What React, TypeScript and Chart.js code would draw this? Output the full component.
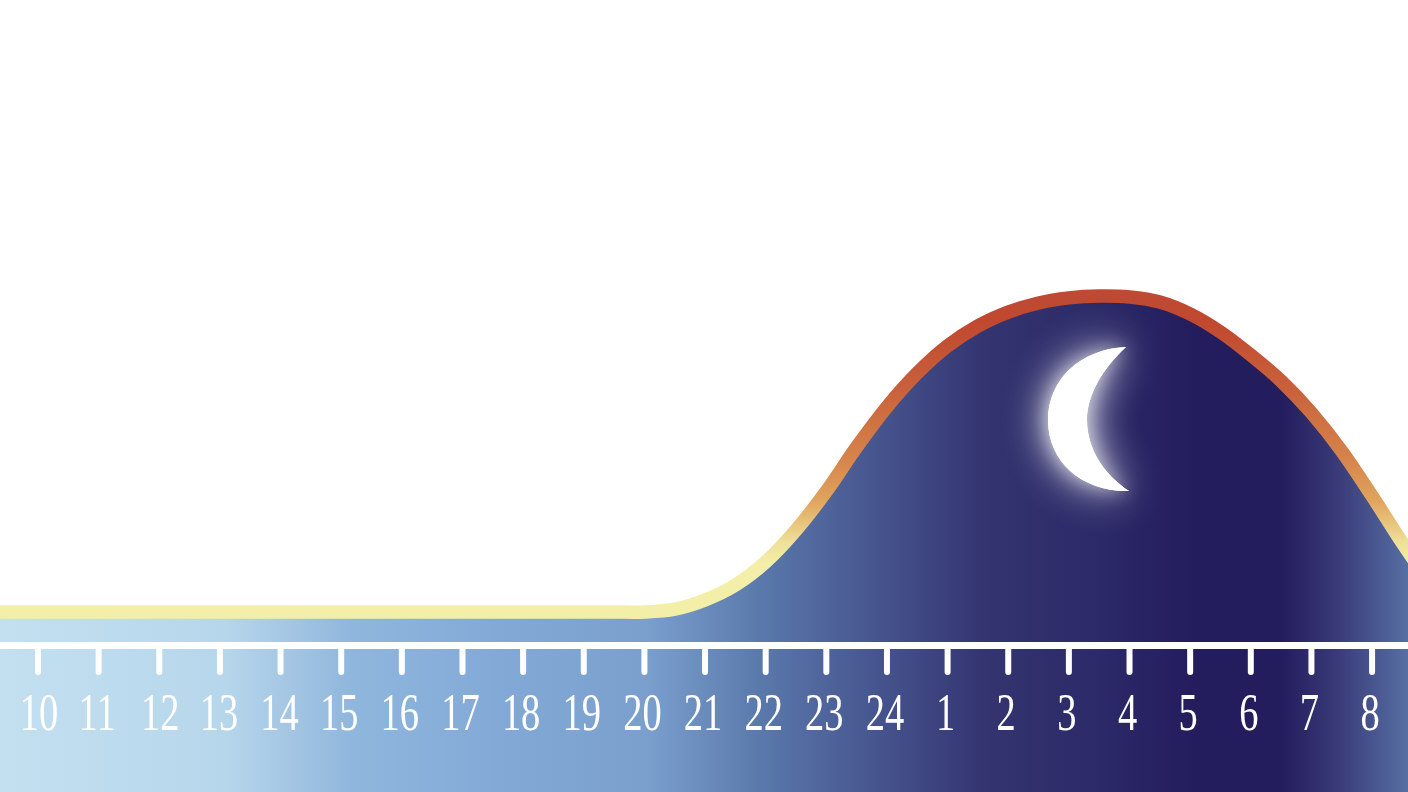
import React, { useEffect, useRef } from "react";
import { Chart, registerables } from "chart.js";

Chart.register(...registerables);

const hourLabels = ["10","11","12","13","14","15","16","17","18","19","20","21","22","23","24","1","2","3","4","5","6","7","8"];
const curveHours = [-1,0,2,4,6,8,9,9.5,10,10.5,11,11.5,12,12.5,13,13.5,14,14.5,15,15.5,16,16.5,17,17.5,18,18.5,19,19.5,20,20.5,21,21.5,22,22.5,23];
const curveLevels = [0,0,0,0,0,0,0,0,0,0.9,3.8,8.5,15.8,25.9,38.2,52.2,64.9,75.6,84.2,90.5,94.9,97.8,99.4,100,99.7,98.1,94.3,88.6,81.3,73.1,63,50.9,36.7,21.8,7.9];
const axisLevel = -10.6;
const labelNudge = [1, -1.5, 1, -1, -1];

const W = 1408, H = 792;

const fillStops: [number, string][] = [
  [0, "#c3e0f0"], [0.16, "#b6d6eb"], [0.2, "#a6c8e4"], [0.25, "#8fb6dc"], [0.36, "#82a9d6"], [0.46, "#7a9fcd"],
  [0.54, "#5a79ab"], [0.62, "#47568f"], [0.7, "#333470"], [0.78, "#2c2a68"], [0.85, "#231c5d"],
  [0.91, "#231c5d"], [0.95, "#3a3b78"], [1, "#566fa3"],
];
const lineStops: [number, string][] = [
  [0, "#be4a33"], [0.08, "#c0482f"], [0.3, "#c9623c"], [0.52, "#d6854b"], [0.65, "#e0a55e"],
  [0.78, "#efe098"], [0.85, "#f3efa9"], [1, "#f3efa9"],
];

const overlay = {
  id: "overlay",
  afterDraw(chart: any) {
    const { ctx, scales: { x, y } } = chart;
    const top = y.getPixelForValue(axisLevel);
    ctx.save();
    ctx.strokeStyle = "#ffffff";
    ctx.lineWidth = 6;
    ctx.lineCap = "round";
    x.ticks.forEach((t: any) => {
      const px = x.getPixelForValue(t.value);
      ctx.beginPath();
      ctx.moveTo(px, top + 4);
      ctx.lineTo(px, top + 26.5);
      ctx.stroke();
    });
    ctx.fillStyle = "#ffffff";
    ctx.textAlign = "center";
    ctx.textBaseline = "alphabetic";
    ctx.font = "52px 'Liberation Serif'";
    x.ticks.forEach((t: any) => {
      const px = x.getPixelForValue(t.value) + (labelNudge[t.value] ?? -2);
      ctx.save();
      ctx.translate(px, 730);
      ctx.scale(0.74, 1);
      ctx.fillText(hourLabels[t.value], 0, 0);
      ctx.restore();
    });
    // moon
    const moon = () => {
      ctx.beginPath();
      ctx.moveTo(1126, 347);
      ctx.bezierCurveTo(1080, 349, 1048, 380, 1048, 420);
      ctx.bezierCurveTo(1048, 462, 1082, 492, 1129, 491);
      ctx.bezierCurveTo(1105, 475, 1087, 450, 1087, 420);
      ctx.bezierCurveTo(1087, 395, 1103, 368, 1126, 347);
      ctx.closePath();
    };
    ctx.shadowColor = "rgba(255,255,255,1)";
    ctx.shadowBlur = 44;
    moon();
    ctx.fill();
    ctx.shadowColor = "rgba(255,255,255,0.6)";
    ctx.shadowBlur = 18;
    moon();
    ctx.fill();
    ctx.restore();
  },
};

export default function App() {
  const ref = useRef<HTMLCanvasElement>(null);
  useEffect(() => {
    document.body.style.margin = "0";
    document.body.style.background = "#ffffff";
    const canvas = ref.current!;
    const c = canvas.getContext("2d")!;
    const fillGrad = c.createLinearGradient(0, 0, W, 0);
    fillStops.forEach(([o, col]) => fillGrad.addColorStop(o, col));
    const lineGrad = c.createLinearGradient(0, 296, 0, 612);
    lineStops.forEach(([o, col]) => lineGrad.addColorStop(o, col));
    const pxPerUnit = 3.16;
    const chart = new Chart(canvas, {
      type: "line",
      data: {
        datasets: [{
          label: "Level",
          data: curveHours.map((h, i) => ({ x: h, y: curveLevels[i] })),
          borderColor: lineGrad,
          borderWidth: 13.5,
          backgroundColor: fillGrad,
          fill: "start",
          pointRadius: 0,
          tension: 0.33,
        }],
      },
      options: {
        responsive: false,
        animation: false,
        maintainAspectRatio: false,
        layout: { padding: 0 },
        plugins: { legend: { display: false }, tooltip: { enabled: false } },
        scales: {
          x: {
            type: "linear",
            min: -38 / 60.64,
            max: (W - 38) / 60.64,
            position: { y: axisLevel },
            grid: { display: false },
            border: { display: true, color: "#ffffff", width: 7, z: 1 },
            ticks: { display: false, stepSize: 1, autoSkip: false, includeBounds: false },
          },
          y: {
            type: "linear",
            display: false,
            min: -(H - 612) / pxPerUnit,
            max: 612 / pxPerUnit,
          },
        },
      },
      plugins: [overlay],
    } as any);
    return () => chart.destroy();
  }, []);
  return <canvas ref={ref} width={W} height={H} style={{ display: "block" }} />;
}
